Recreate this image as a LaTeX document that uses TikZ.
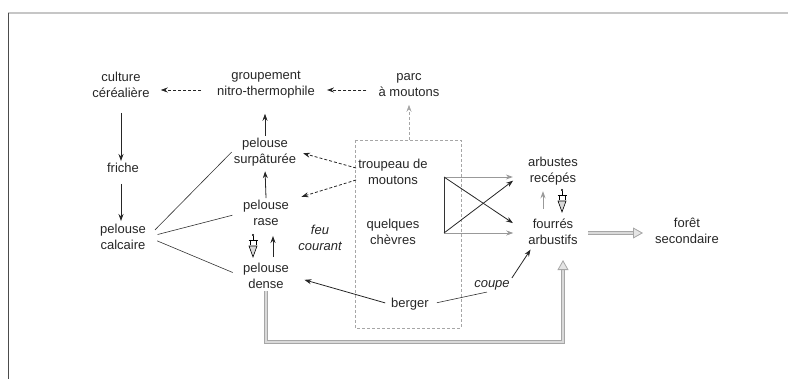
\documentclass[tikz,border=0pt]{standalone}
\usepackage{fontspec}
\setmainfont{Liberation Sans}
\usetikzlibrary{arrows.meta}

\tikzset{
    browse/.pic={
        % small grazing mark over a down arrow
        \fill (0,0) circle (1.2pt);
        \draw[line width=0.6pt] (0,1) -- (0,5);
        \draw[line width=0.6pt] (-4.5,5) -- (4.5,5) (-3,5) -- (-3,10) (3,5) -- (3,10);
        \draw[line width=0.6pt, fill=gray!30] (-4,11) -- (0,22) -- (4,11) -- cycle;
    },
}

\begin{document}
\begin{tikzpicture}[
    x=1pt, y=-1pt,
    every node/.style={font=\fontsize{13}{16}\selectfont, text=black!85, align=center, inner sep=2pt},
    >={Stealth[length=7pt,width=5pt]},
    link/.style={->, line width=0.8pt, black!85},
    dlink/.style={link, densely dashed},
    glink/.style={link, gray!80},
    plain/.style={line width=0.6pt, black!80},
    boxline/.style={gray!70, densely dashed, line width=0.5pt},
    hollow/.style={draw=gray!70, double=gray!30, double distance=2.2pt, line width=0.8pt,
        -{Triangle[open, length=10pt, width=11pt, fill=gray!20]}},
    slanted/.style={font=\fontsize{13}{16}\selectfont\itshape},
]

\useasboundingbox (0,0) rectangle (788,379);

% === Frame ===
\draw[gray!45, line width=1.5pt] (8,13) -- (788,13);
\draw[black!70, line width=0.8pt] (8,13) -- (8,379);

% === Flock enclosure ===
\draw[boxline] (355,140) rectangle (461,328);
\coordinate (boxtop) at (409,140);

% === Nodes ===
\node (culture)  at (121,85)  {culture\\céréalière};
\node (groupe)   at (266,85)  {groupement\\nitro-thermophile};
\node (parc)     at (409,85)  {parc\\à moutons};
\node (friche)   at (123,168) {friche};
\node (calcaire) at (123,237) {pelouse\\calcaire};
\node (surp)     at (265,152) {pelouse\\surpâturée};
\node (rase)     at (266,213) {pelouse\\rase};
\node (dense)    at (266,276) {pelouse\\dense};
\node[slanted] (feu) at (320,238) {feu\\courant};
\node (troupeau) at (393,172) {troupeau de\\moutons};
\node (chevres)  at (393,232) {quelques\\chèvres};
\node (berger)   at (410,304) {berger};
\node[slanted] (coupe) at (492,285) {coupe};
\node (arbustes) at (553,171) {arbustes\\recépés};
\node (fourres)  at (553,232) {fourrés\\arbustifs};
\node (foret)    at (687,231) {forêt\\secondaire};

% === Top row ===
\draw[dlink, shorten <=14pt, shorten >=9pt] ([yshift=-5pt]groupe.west) -- ([yshift=-5pt]culture.east);
\draw[dlink, shorten <=10pt, shorten >=10pt] ([yshift=-5pt]parc.west) -- ([yshift=-5pt]groupe.east);
\draw[dlink, gray!70, shorten >=6pt] (boxtop) -- (parc.south);

% === Left column ===
\draw[link, shorten <=13pt] (culture.south) -- (culture.south |- friche.north);
\draw[link, shorten <=9pt, shorten >=1pt] (culture.south |- friche.south) -- (culture.south |- calcaire.north);

% calcareous grassland forks into three
\draw[plain, shorten <=10pt] (calcaire.east) -- (surp.west);
\draw[plain, shorten <=10pt, shorten >=9pt] (calcaire.east) -- (rase.west);
\draw[plain, shorten <=10pt, shorten >=9pt] (calcaire.east) -- (dense.west);

% === Grassland column ===
\draw[link, shorten >=13pt] (surp.north) -- (surp.north |- groupe.south);
\draw[link, shorten >=3pt] (rase.north) -- (surp.south);
\draw[link, shorten <=4pt, shorten >=8pt] ([xshift=7pt]dense.north) -- ([xshift=7pt]rase.south);
\pic at (253,235) {browse};

% === Flock ===
\draw[dlink, shorten >=5pt] ([yshift=4pt]troupeau.west) -- (surp.east);
\draw[dlink, shorten >=11pt] ([yshift=-8pt]troupeau.west) -- ([yshift=13pt]rase.east);
\draw[link, shorten <=4pt, shorten >=14pt] (berger.west) -- (dense.east);
\draw[plain, shorten <=6pt] (berger.east) -- ([xshift=-5pt]coupe.south);
\draw[link, shorten >=3pt] (coupe.north east) -- ([xshift=6pt]fourres.south west);

% browsing cross
\coordinate (hubtop) at (444,177);
\coordinate (hubbot) at (444,233);
\draw[plain] (hubtop) -- (hubbot);
\draw[glink, shorten >=13pt] (hubtop) -- ([yshift=-6pt]arbustes.west);
\draw[link, shorten >=16pt] (hubtop) -- (fourres.west);
\draw[glink, shorten >=13pt] (hubbot) -- (hubbot -| fourres.west);
\draw[link, shorten >=16pt] (hubbot) -- (arbustes.west);

% === Shrubs ===
\draw[glink, shorten <=8pt, shorten >=4pt] ([xshift=-10pt]fourres.north) -- ([xshift=-10pt]arbustes.south);
\pic at (562,190) {browse};
\draw[hollow, shorten <=8pt, shorten >=10pt] ([yshift=-1pt]fourres.east) -- ([yshift=-1pt]fourres.east -| foret.west);

% === Return loop under the enclosure ===
\draw[hollow, shorten >=13pt] (dense.south) -- (dense.south |- 0,342) -| ([xshift=10pt]fourres.south);

\end{tikzpicture}
\end{document}
